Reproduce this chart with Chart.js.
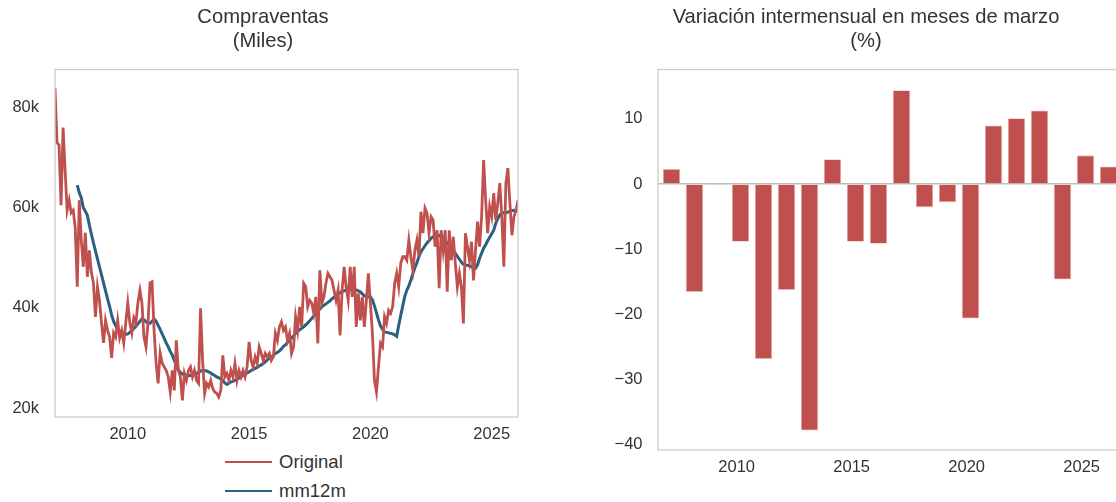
<!DOCTYPE html>
<html lang="es">
<head>
<meta charset="utf-8">
<title>Compraventas</title>
<script src="https://cdn.jsdelivr.net/npm/chart.js@4.4.1/dist/chart.umd.min.js"></script>
<style>
    html, body {
        margin: 0;
        padding: 0;
        background: #ffffff;
        width: 1116px;
        height: 502px;
        overflow: hidden;
        font-family: "Liberation Sans", Arial, sans-serif;
    }
    #page {
        position: relative;
        width: 1116px;
        height: 502px;
        overflow: hidden;
    }
    #salesChart {
        position: absolute;
        left: 0;
        top: 0;
    }
    #marchChart {
        position: absolute;
        left: 600px;
        top: 0;
    }
    .legend-row {
        position: absolute;
        left: 225px;
        height: 24px;
        display: flex;
        align-items: center;
        font-size: 18.5px;
        color: #333333;
        white-space: nowrap;
    }
    .legend-line {
        display: inline-block;
        width: 47px;
        height: 2.8px;
        margin-right: 7px;
    }
</style>
</head>
<body>
<div id="page">
    <canvas id="salesChart" width="526" height="450"></canvas>
    <canvas id="marchChart" width="532" height="485"></canvas>
    <div id="salesLegend"></div>
</div>

<script>
// Monthly sales, thousands (Jan 2007 - Feb 2026)
const startYear = 2007;
const originalValues = [
    83.9, 73, 72.5, 60.5, 76, 67.5, 59.5, 61.5, 59, 59.5, 56, 44.2,
    61.5, 53.5, 48.2, 55, 46.2, 51.5, 47, 45, 38.2, 44.2, 41.5, 37,
    33, 37.5, 35.5, 34.2, 30, 35, 34.2, 37.5, 34, 35.5, 33, 37,
    41, 37, 35, 38, 37, 41, 43.5, 41, 34.2, 32.2, 37, 45,
    45.2, 35.5, 29, 24.9, 31, 29, 28.2, 27.5, 26.2, 23.2, 27.5, 23.5,
    33.5, 27.5, 26.2, 21.5, 26.9, 25.5, 27.5, 28.2, 26.2, 27.5, 25.5, 24.9,
    39.9, 29.5, 22.9, 24.9, 24.2, 25.5, 23.9, 23.2, 22.9, 22.2, 23.5, 30.5,
    26.2, 26.9, 25.5, 27.5, 26.2, 28.9, 25.5, 27.5, 26.2, 27.5, 26.2, 28.2,
    33.2, 29.5, 28.2, 30.2, 28.9, 32.2, 30.9, 29.5, 30.9, 30.2, 30.9, 29.5,
    30.2, 34.9, 33.5, 36.2, 37.2, 35.5, 36.2, 33.5, 34.9, 30.9, 32.2, 38.2,
    35.5, 40.2, 36.2, 44.9, 44.2, 40.2, 41.5, 40.9, 38.9, 42.2, 32.9, 47.5,
    40.9, 42.2, 44.9, 46.9, 46.2, 45.5, 43.5, 41.5, 43.5, 34.5, 43.5, 48.2,
    44.2, 41.5, 48.2, 42.2, 48.2, 36.2, 42.9, 37.5, 42.2, 36.2, 41.5, 46.9,
    40.9, 34.9, 25.5, 23.2, 28.2, 32.9, 32.2, 38.2, 36.9, 39.5, 38.9, 40.2,
    44.9, 46.9, 44.2, 48.9, 50.2, 50.2, 49.5, 53.5, 50.2, 47.5, 51.5, 53.5,
    50.2, 59.2, 54.9, 59.9, 58.9, 54.9, 58.2, 57.5, 52.2, 55.5, 43.9, 55.5,
    51.5, 55.5, 43.2, 55.5, 49.5, 54.2, 48.9, 44.2, 46.9, 44.2, 36.9, 54.9,
    52.2, 49.5, 53.2, 45.5, 51.5, 57.2, 52.2, 58.2, 69.5, 61.5, 54.9, 60.2,
    58.2, 62.9, 57.5, 60.9, 64.9, 58.2, 48.2, 64.9, 67.9, 60.9, 54.5, 58.2,
    59.5, 61.5
];

// 12-month moving average, starts Dec 2007
const mm12mStart = 11;
const mm12mValues = [
    64.5,
    63, 62, 60, 59.3, 58.5, 56.5, 54.7, 53, 51.4, 49.8, 48.2, 46.6,
    45, 43.4, 41.8, 40.3, 38.6, 37.3, 36.4, 35.8, 35.3, 34.9, 34.8, 34.7,
    34.8, 35.1, 35.5, 35.9, 36.3, 36.8, 37.3, 37.8, 37.6, 37.2, 37.0, 36.9,
    37.3, 37.8, 37.3, 36.5, 35.7, 34.8, 33.9, 33.0, 32.2, 31.3, 30.6, 29.5,
    28.5, 27.5, 27.1, 26.8, 26.6, 26.5, 26.5, 26.5, 26.6, 26.7, 26.9, 27.1,
    27.4, 27.5, 27.5, 27.4, 27.2, 27.0, 26.7, 26.5, 26.2, 26.0, 25.8, 25.5,
    25.0, 24.7, 25.0, 25.2, 25.3, 25.5, 25.7, 26.0, 26.3, 26.5, 26.7, 27.0,
    27.2, 27.5, 27.7, 27.9, 28.1, 28.4, 28.6, 28.9, 29.2, 29.6, 29.9, 30.2,
    30.5, 30.9, 31.1, 31.4, 31.8, 32.3, 32.6, 33.1, 33.6, 34.0, 34.4, 34.9,
    35.3, 35.6, 35.9, 36.2, 36.6, 37.0, 37.4, 37.9, 38.4, 38.9, 39.4, 39.8,
    40.2, 40.5, 40.8, 41.1, 41.4, 41.8, 42.1, 42.5, 42.8, 43.0, 43.3, 43.4,
    43.5, 43.6, 43.7, 43.7, 43.7, 43.6, 43.4, 43.2, 42.8, 42.4, 42.3, 42.2,
    42.2, 41.6, 40.4, 39.0, 37.6, 36.4, 35.7, 35.2, 35.1, 35.0, 34.9, 34.8,
    34.6, 34.3, 36.5, 38.5, 40.4, 42.3, 43.5, 44.4, 45.5, 46.8, 48.0, 49.0,
    50.2, 51.2, 51.8, 52.4, 53.0, 53.4, 53.9, 54.2, 54.5, 54.5, 54.5, 54.2,
    53.9, 53.4, 52.9, 52.4, 52.0, 51.5, 50.9, 50.3, 49.7, 49.1, 48.7, 48.5,
    48.5, 48.4, 48.2, 48.0, 47.9, 48.6, 49.9, 50.9, 51.9, 52.6, 53.4, 54.1,
    54.8, 55.5, 56.9, 57.8, 58.6, 58.9, 59.0, 59.0, 59.1, 59.3, 59.4, 59.5,
    59.4, 59.3
];

// March month-on-month change (%)
const marchYears = [
    2007, 2008, 2009, 2010, 2011, 2012, 2013, 2014, 2015, 2016,
    2017, 2018, 2019, 2020, 2021, 2022, 2023, 2024, 2025, 2026
];
const marchChange = [
    2.3, -16.6, -0.2, -8.9, -26.9, -16.3, -37.9, 3.8, -8.9, -9.2,
    14.4, -3.6, -2.8, -20.7, 9.0, 10.1, 11.3, -14.7, 4.4, 2.7
];

// Tick labels
const yearTicks = [2010, 2015, 2020, 2025];
const salesTicks = [20, 40, 60, 80];
const changeTicks = [-40, -30, -20, -10, 0, 10];

const RED = '#c0504d';
const BLUE = '#2a6180';
const TEXT = '#333333';
const FONT = "'Liberation Sans', Arial, sans-serif";

// Light grey box round the plot area
const plotFrame = {
    id: 'plotFrame',
    afterDatasetsDraw(chart) {
        const { ctx, chartArea: a } = chart;
        ctx.save();
        ctx.strokeStyle = '#cccccc';
        ctx.lineWidth = 1.3;
        ctx.strokeRect(a.left, a.top, a.right - a.left, a.bottom - a.top);
        ctx.restore();
    }
};

function fixedTicks(values) {
    return function(scale) {
        scale.ticks = values.map(v => ({ value: v }));
    };
}

function titleOptions(lines) {
    return {
        display: true,
        text: lines,
        color: TEXT,
        font: { family: FONT, size: 20.2, weight: 'normal', lineHeight: '23.5px' },
        padding: { top: 6, bottom: 16.5 }
    };
}

const tickFont = { family: FONT, size: 16.5 };

// 1. Sales (line chart)
const monthX = originalValues.map((_, i) => startYear + i / 12);

const salesChart = new Chart(document.getElementById('salesChart'), {
    type: 'line',
    data: {
        datasets: [{
            label: 'Original',
            data: originalValues.map((v, i) => ({ x: monthX[i], y: v })),
            borderColor: RED,
            backgroundColor: RED,
            borderWidth: 2.8,
            pointRadius: 0,
            tension: 0
        }, {
            label: 'mm12m',
            data: mm12mValues.map((v, i) => ({ x: monthX[i + mm12mStart], y: v })),
            borderColor: BLUE,
            backgroundColor: BLUE,
            borderWidth: 3,
            pointRadius: 0,
            tension: 0
        }]
    },
    options: {
        responsive: false,
        animation: false,
        layout: { padding: { left: 8, right: 8 } },
        plugins: {
            legend: { display: false },
            tooltip: { enabled: false },
            title: titleOptions(['Compraventas', '(Miles)'])
        },
        scales: {
            x: {
                type: 'linear',
                min: startYear,
                max: monthX[monthX.length - 1],
                grid: { display: false },
                border: { display: false },
                afterBuildTicks: fixedTicks(yearTicks),
                afterFit: function(scale) { scale.height = 33; },
                ticks: {
                    color: TEXT,
                    font: tickFont,
                    padding: 0,
                    maxRotation: 0,
                    callback: v => String(v)
                }
            },
            y: {
                min: 18.2,
                max: 87.6,
                grid: { display: false, drawTicks: false },
                border: { display: false },
                afterBuildTicks: fixedTicks(salesTicks),
                afterFit: function(scale) { scale.width = 47; },
                ticks: {
                    color: TEXT,
                    font: tickFont,
                    padding: 16,
                    callback: v => v + 'k'
                }
            }
        }
    },
    plugins: [plotFrame]
});

// Legend stacked under the sales chart
const legendBox = document.getElementById('salesLegend');
const legendRows = [462, 491];
salesChart.data.datasets.forEach(function(ds, i) {
    const row = document.createElement('div');
    row.className = 'legend-row';
    row.style.top = (legendRows[i] - 12) + 'px';
    const line = document.createElement('span');
    line.className = 'legend-line';
    line.style.background = ds.borderColor;
    const label = document.createElement('span');
    label.textContent = ds.label;
    row.appendChild(line);
    row.appendChild(label);
    legendBox.appendChild(row);
});

// 2. March change (bar chart)
new Chart(document.getElementById('marchChart'), {
    type: 'bar',
    data: {
        datasets: [{
            label: 'Marzo',
            data: marchYears.map((yr, i) => ({ x: yr + 2 / 12, y: marchChange[i] })),
            backgroundColor: RED,
            borderColor: 'rgba(236, 190, 188, 0.9)',
            borderWidth: 0.8,
            barPercentage: 0.76,
            categoryPercentage: 1
        }]
    },
    options: {
        responsive: false,
        animation: false,
        layout: { padding: { left: 11, right: 11 } },
        plugins: {
            legend: { display: false },
            tooltip: { enabled: false },
            title: titleOptions(['Variación intermensual en meses de marzo', '(%)'])
        },
        scales: {
            x: {
                type: 'linear',
                min: 2006.58,
                max: 2026.71,
                offset: false,
                grid: { display: false },
                border: { display: false },
                afterBuildTicks: fixedTicks(yearTicks),
                afterFit: function(scale) { scale.height = 35; },
                ticks: {
                    color: TEXT,
                    font: tickFont,
                    padding: 0,
                    maxRotation: 0,
                    callback: v => String(v)
                }
            },
            y: {
                min: -40.9,
                max: 17.6,
                grid: {
                    drawTicks: false,
                    lineWidth: 1.5,
                    color: ctx => (ctx.tick && ctx.tick.value === 0) ? '#bdbdbd' : 'rgba(0,0,0,0)'
                },
                border: { display: false },
                afterBuildTicks: fixedTicks(changeTicks),
                afterFit: function(scale) { scale.width = 47; },
                ticks: {
                    color: TEXT,
                    font: tickFont,
                    padding: 15.5,
                    callback: v => v < 0 ? '\u2212' + Math.abs(v) : String(v)
                }
            }
        }
    },
    plugins: [plotFrame]
});
</script>
</body>
</html>
